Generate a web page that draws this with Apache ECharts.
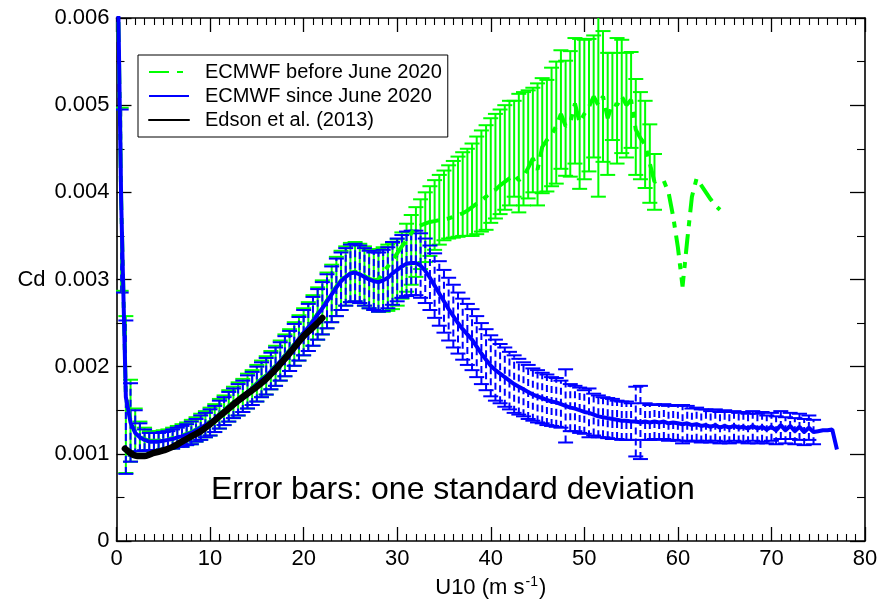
<!DOCTYPE html>
<html>
<head>
<meta charset="utf-8">
<script src="https://cdn.jsdelivr.net/npm/echarts@6/dist/echarts.min.js"></script>
<style>html,body{margin:0;padding:0;background:#fff}#c{width:879px;height:609px}</style>
</head>
<body>
<div id="c"></div>
<script>
// wind-speed bins (m/s)
const binU = [
 0,0.5,1,1.5,2,2.5,3,3.5,4,4.5,5,5.5,6,6.5,7,7.5,8,8.5,9,9.5,
 10,10.5,11,11.5,12,12.5,13,13.5,14,14.5,15,15.5,16,16.5,17,17.5,18,18.5,19,19.5,
 20,20.5,21,21.5,22,22.5,23,23.5,24,24.5,25,25.5,26,26.5,27,27.5,28,28.5,29,29.5,
 30,30.5,31,31.5,32,32.5,33,33.5,34,34.5,35,35.5,36,36.5,37,37.5,38,38.5,39,39.5,
 40,40.5,41,41.5,42,42.5,43,43.5,44,44.5,45,45.5,46,46.5,47,47.5,48,48.5,49,49.5,
 50,50.5,51,51.5,52,52.5,53,53.5,54,54.5,55,55.5,56,56.5,57,57.5,58,58.5,59,59.5,
 60,60.5,61,61.5,62,62.5,63,63.5,64,64.5,65,65.5,66,66.5,67,67.5,68,68.5,69,69.5,
 70,70.5,71,71.5,72,72.5,73,73.5,74,74.5,75,75.5,76,76.5,77
];
// ECMWF since June 2020: mean Cd and one standard deviation
const blueCd = [
 7.5e-3,3.9e-3,1.65e-3,1.36e-3,1.24e-3,1.19e-3,1.16e-3,1.14e-3,1.14e-3,1.14e-3,1.15e-3,1.16e-3,1.17e-3,1.19e-3,1.20e-3,1.22e-3,1.24e-3,1.27e-3,1.30e-3,1.33e-3,
 1.36e-3,1.40e-3,1.45e-3,1.49e-3,1.54e-3,1.58e-3,1.62e-3,1.66e-3,1.71e-3,1.75e-3,1.80e-3,1.85e-3,1.89e-3,1.95e-3,2.00e-3,2.06e-3,2.12e-3,2.18e-3,2.25e-3,2.32e-3,
 2.39e-3,2.45e-3,2.52e-3,2.60e-3,2.67e-3,2.75e-3,2.83e-3,2.91e-3,2.98e-3,3.03e-3,3.07e-3,3.08e-3,3.06e-3,3.03e-3,3.00e-3,2.98e-3,2.97e-3,2.99e-3,3.02e-3,3.07e-3,
 3.11e-3,3.15e-3,3.18e-3,3.19e-3,3.19e-3,3.16e-3,3.10e-3,3.02e-3,2.93e-3,2.84e-3,2.75e-3,2.66e-3,2.58e-3,2.50e-3,2.43e-3,2.37e-3,2.31e-3,2.23e-3,2.15e-3,2.08e-3,
 2.01e-3,1.96e-3,1.92e-3,1.88e-3,1.84e-3,1.80e-3,1.77e-3,1.74e-3,1.71e-3,1.68e-3,1.66e-3,1.64e-3,1.62e-3,1.60e-3,1.59e-3,1.57e-3,1.55e-3,1.53e-3,1.52e-3,1.50e-3,
 1.48e-3,1.47e-3,1.45e-3,1.43e-3,1.42e-3,1.41e-3,1.40e-3,1.39e-3,1.38e-3,1.38e-3,1.37e-3,1.37e-3,1.36e-3,1.37e-3,1.36e-3,1.37e-3,1.36e-3,1.37e-3,1.35e-3,1.36e-3,
 1.35e-3,1.34e-3,1.35e-3,1.33e-3,1.34e-3,1.32e-3,1.33e-3,1.31e-3,1.33e-3,1.30e-3,1.32e-3,1.30e-3,1.32e-3,1.30e-3,1.31e-3,1.29e-3,1.32e-3,1.29e-3,1.31e-3,1.28e-3,
 1.31e-3,1.27e-3,1.33e-3,1.27e-3,1.32e-3,1.26e-3,1.31e-3,1.25e-3,1.30e-3,1.25e-3,1.26e-3,1.27e-3,1.27e-3,1.28e-3,1.05e-3
];
const blueSd = [
 null,1.05e-3,0.88e-3,0.45e-3,0.26e-3,0.16e-3,0.12e-3,0.10e-3,0.10e-3,0.10e-3,0.10e-3,0.10e-3,0.11e-3,0.11e-3,0.12e-3,0.12e-3,0.13e-3,0.13e-3,0.14e-3,0.14e-3,
 0.15e-3,0.15e-3,0.16e-3,0.16e-3,0.17e-3,0.17e-3,0.18e-3,0.18e-3,0.19e-3,0.19e-3,0.20e-3,0.20e-3,0.21e-3,0.21e-3,0.22e-3,0.22e-3,0.23e-3,0.23e-3,0.24e-3,0.25e-3,
 0.26e-3,0.27e-3,0.28e-3,0.29e-3,0.30e-3,0.31e-3,0.32e-3,0.33e-3,0.33e-3,0.33e-3,0.33e-3,0.33e-3,0.33e-3,0.33e-3,0.33e-3,0.33e-3,0.34e-3,0.35e-3,0.35e-3,0.36e-3,
 0.36e-3,0.36e-3,0.37e-3,0.37e-3,0.37e-3,0.37e-3,0.37e-3,0.37e-3,0.37e-3,0.37e-3,0.36e-3,0.36e-3,0.36e-3,0.35e-3,0.35e-3,0.35e-3,0.35e-3,0.35e-3,0.35e-3,0.35e-3,
 0.35e-3,0.35e-3,0.34e-3,0.34e-3,0.33e-3,0.33e-3,0.32e-3,0.31e-3,0.31e-3,0.30e-3,0.30e-3,0.29e-3,0.29e-3,0.28e-3,0.28e-3,0.27e-3,0.42e-3,0.27e-3,0.26e-3,0.26e-3,
 0.25e-3,0.28e-3,0.24e-3,0.24e-3,0.23e-3,0.23e-3,0.23e-3,0.22e-3,0.22e-3,0.22e-3,0.21e-3,0.40e-3,0.42e-3,0.21e-3,0.20e-3,0.20e-3,0.20e-3,0.20e-3,0.20e-3,0.20e-3,
 0.20e-3,0.22e-3,0.20e-3,0.19e-3,0.19e-3,0.19e-3,0.18e-3,0.18e-3,0.18e-3,0.18e-3,0.18e-3,0.18e-3,0.17e-3,0.17e-3,0.17e-3,0.17e-3,0.17e-3,0.17e-3,0.17e-3,0.16e-3,
 0.16e-3,0.16e-3,0.16e-3,0.15e-3,0.15e-3,0.15e-3,0.15e-3,0.15e-3,0.14e-3,0.14e-3,null,null,null,null,null
];
// ECMWF before June 2020: line values (U 0 .. 64.5)
const greenCd = [
 7.4e-3,3.92e-3,1.68e-3,1.38e-3,1.25e-3,1.20e-3,1.17e-3,1.15e-3,1.15e-3,1.15e-3,1.16e-3,1.17e-3,1.18e-3,1.20e-3,1.21e-3,1.23e-3,1.25e-3,1.28e-3,1.31e-3,1.34e-3,
 1.37e-3,1.41e-3,1.46e-3,1.50e-3,1.55e-3,1.59e-3,1.63e-3,1.67e-3,1.72e-3,1.76e-3,1.81e-3,1.86e-3,1.90e-3,1.96e-3,2.01e-3,2.07e-3,2.13e-3,2.19e-3,2.26e-3,2.33e-3,
 2.40e-3,2.46e-3,2.53e-3,2.61e-3,2.68e-3,2.76e-3,2.84e-3,2.92e-3,2.99e-3,3.04e-3,3.08e-3,3.09e-3,3.07e-3,3.04e-3,3.01e-3,2.99e-3,3.00e-3,3.08e-3,3.15e-3,3.22e-3,
 3.30e-3,3.38e-3,3.45e-3,3.53e-3,3.60e-3,3.62e-3,3.64e-3,3.66e-3,3.67e-3,3.68e-3,3.69e-3,3.70e-3,3.72e-3,3.74e-3,3.76e-3,3.79e-3,3.83e-3,3.87e-3,3.91e-3,3.95e-3,
 4.00e-3,4.03e-3,4.08e-3,4.12e-3,4.16e-3,4.20e-3,4.14e-3,4.18e-3,4.28e-3,4.39e-3,4.26e-3,4.52e-3,4.60e-3,4.66e-3,4.76e-3,4.90e-3,4.76e-3,4.80e-3,5.02e-3,4.80e-3,
 4.90e-3,4.98e-3,5.10e-3,5.00e-3,5.10e-3,4.85e-3,5.02e-3,5.00e-3,5.10e-3,5.00e-3,5.06e-3,4.72e-3,4.62e-3,4.55e-3,4.33e-3,4.12e-3,4.14e-3,4.13e-3,4.00e-3,3.72e-3,
 3.37e-3,2.92e-3,3.45e-3,3.95e-3,4.16e-3,4.08e-3,4.00e-3,3.92e-3,3.85e-3,3.80e-3
];
// ECMWF before June 2020: bar centres (mean) and one standard deviation (U 0 .. 57.5)
const greenBarCd = [
 7.4e-3,3.92e-3,1.68e-3,1.38e-3,1.25e-3,1.20e-3,1.17e-3,1.15e-3,1.15e-3,1.15e-3,1.16e-3,1.17e-3,1.18e-3,1.20e-3,1.21e-3,1.23e-3,1.25e-3,1.28e-3,1.31e-3,1.34e-3,
 1.37e-3,1.41e-3,1.46e-3,1.50e-3,1.55e-3,1.59e-3,1.63e-3,1.67e-3,1.72e-3,1.76e-3,1.81e-3,1.86e-3,1.90e-3,1.96e-3,2.01e-3,2.07e-3,2.13e-3,2.19e-3,2.26e-3,2.33e-3,
 2.40e-3,2.46e-3,2.53e-3,2.61e-3,2.68e-3,2.76e-3,2.84e-3,2.92e-3,2.99e-3,3.04e-3,3.08e-3,3.09e-3,3.07e-3,3.04e-3,3.01e-3,2.99e-3,2.99e-3,3.00e-3,3.02e-3,3.04e-3,
 3.08e-3,3.16e-3,3.25e-3,3.34e-3,3.43e-3,3.52e-3,3.60e-3,3.67e-3,3.74e-3,3.80e-3,3.85e-3,3.89e-3,3.92e-3,3.95e-3,3.98e-3,4.00e-3,4.03e-3,4.08e-3,4.13e-3,4.17e-3,
 4.25e-3,4.30e-3,4.35e-3,4.40e-3,4.45e-3,4.50e-3,4.45e-3,4.50e-3,4.55e-3,4.60e-3,4.55e-3,4.65e-3,4.65e-3,4.75e-3,4.80e-3,4.95e-3,4.85e-3,4.90e-3,5.05e-3,4.90e-3,
 4.95e-3,5.00e-3,5.10e-3,5.00e-3,5.10e-3,4.90e-3,5.10e-3,5.05e-3,5.10e-3,5.00e-3,5.06e-3,4.75e-3,4.65e-3,4.55e-3,4.33e-3,4.12e-3
];
const greenSd = [
 null,1.05e-3,0.90e-3,0.47e-3,0.27e-3,0.17e-3,0.13e-3,0.11e-3,0.11e-3,0.11e-3,0.11e-3,0.11e-3,0.12e-3,0.12e-3,0.13e-3,0.13e-3,0.14e-3,0.14e-3,0.15e-3,0.15e-3,
 0.16e-3,0.16e-3,0.17e-3,0.17e-3,0.18e-3,0.18e-3,0.19e-3,0.19e-3,0.20e-3,0.20e-3,0.21e-3,0.21e-3,0.22e-3,0.22e-3,0.23e-3,0.23e-3,0.24e-3,0.24e-3,0.25e-3,0.26e-3,
 0.27e-3,0.28e-3,0.29e-3,0.30e-3,0.31e-3,0.32e-3,0.33e-3,0.34e-3,0.34e-3,0.34e-3,0.34e-3,0.34e-3,0.34e-3,0.34e-3,0.34e-3,0.34e-3,0.36e-3,0.37e-3,0.38e-3,0.38e-3,
 0.38e-3,0.38e-3,0.39e-3,0.40e-3,0.40e-3,0.40e-3,0.40e-3,0.40e-3,0.40e-3,0.40e-3,0.40e-3,0.42e-3,0.44e-3,0.46e-3,0.48e-3,0.50e-3,0.53e-3,0.56e-3,0.58e-3,0.60e-3,
 0.60e-3,0.60e-3,0.60e-3,0.60e-3,0.60e-3,0.55e-3,0.68e-3,0.65e-3,0.62e-3,0.60e-3,0.70e-3,0.66e-3,0.64e-3,0.68e-3,0.70e-3,0.68e-3,0.66e-3,0.72e-3,0.72e-3,0.86e-3,
 0.80e-3,0.76e-3,0.70e-3,1.05e-3,0.75e-3,0.70e-3,0.50e-3,0.72e-3,0.65e-3,0.60e-3,0.55e-3,0.55e-3,0.50e-3,0.50e-3,0.45e-3,0.32e-3
];
// Edson et al. (2013)
const edsonU  = [0.9,1.5,2,2.5,3,3.5,4,5,6,7,8,9,10,11,12,13,14,15,16,17,18,19,20,21,22];
const edsonCd = [1.06e-3,1.01e-3,0.98e-3,0.975e-3,0.975e-3,0.99e-3,1.01e-3,1.04e-3,1.08e-3,1.14e-3,1.20e-3,1.26e-3,1.34e-3,1.43e-3,1.52e-3,1.61e-3,1.69e-3,1.77e-3,1.86e-3,1.97e-3,2.09e-3,2.22e-3,2.35e-3,2.45e-3,2.56e-3];

const seriesNames = ['ECMWF before June 2020', 'ECMWF since June 2020', 'Edson et al. (2013)'];
const noteText = 'Error bars: one standard deviation';

const FONT = '"Liberation Sans", Arial, Helvetica, sans-serif';
const GREEN = '#00ff00', BLUE = '#0000ff', BLACK = '#000000';

function barData(u, c, s) {
  const out = [];
  for (let i = 0; i < s.length; i++) {
    if (s[i] != null && c[i] != null) out.push([u[i], c[i] - s[i], c[i] + s[i]]);
  }
  return out;
}
function errorBars(data, color, dash) {
  return {
    type: 'custom', clip: true, silent: true, z: 2,
    encode: { x: 0, y: [1, 2] },
    data: data,
    renderItem: function (params, api) {
      const x = api.value(0);
      const lo = api.coord([x, api.value(1)]);
      const hi = api.coord([x, api.value(2)]);
      const hw = 7.5;
      const st = { stroke: color, lineWidth: 2 };
      return { type: 'group', children: [
        { type: 'line', shape: { x1: lo[0], y1: lo[1], x2: hi[0], y2: hi[1] }, style: Object.assign({}, st, dash ? { lineDash: dash } : {}) },
        { type: 'line', shape: { x1: hi[0] - hw, y1: hi[1], x2: hi[0] + hw, y2: hi[1] }, style: st },
        { type: 'line', shape: { x1: lo[0] - hw, y1: lo[1], x2: lo[0] + hw, y2: lo[1] }, style: st }
      ]};
    }
  };
}
const pairs = (u, c) => u.slice(0, c.length).map((x, i) => [x, c[i]]).filter(d => d[1] != null);

const axisLineStyle = { color: '#000', width: 1.6 };
function xAx(pos, show) {
  return {
    type: 'value', min: 0, max: 80, interval: 10, position: pos,
    axisLine: { show: true, onZero: false, lineStyle: axisLineStyle },
    axisTick: { show: true, inside: true, length: 14, lineStyle: { color: '#000', width: 1.3 } },
    minorTick: { show: true, splitNumber: 10, length: 7, lineStyle: { color: '#000', width: 1.1 } },
    splitLine: { show: false }, minorSplitLine: { show: false },
    axisLabel: { show: show, fontFamily: FONT, fontSize: 22, color: '#000', margin: 7 }
  };
}
function yAx(pos, show) {
  return {
    type: 'value', min: 0, max: 0.006, interval: 0.001, position: pos,
    axisLine: { show: true, onZero: false, lineStyle: axisLineStyle },
    axisTick: { show: true, inside: true, length: 15, lineStyle: { color: '#000', width: 1.3 } },
    minorTick: { show: true, splitNumber: 2, length: 8, lineStyle: { color: '#000', width: 1.1 } },
    splitLine: { show: false }, minorSplitLine: { show: false },
    axisLabel: { show: show, fontFamily: FONT, fontSize: 22, color: '#000', margin: 7,
      formatter: v => (v === 0 ? '0' : v.toFixed(3)) }
  };
}
const xBottom = xAx('bottom', true);
xBottom.name = '{a|U10 (m s}{s|-1}{a|)}';
xBottom.nameLocation = 'middle';
xBottom.nameGap = 30;
xBottom.nameTextStyle = { rich: {
  a: { fontFamily: FONT, fontSize: 22, color: '#000', lineHeight: 26 },
  s: { fontFamily: FONT, fontSize: 14, color: '#000', verticalAlign: 'top', lineHeight: 14, padding: [0, 1, 0, 1] }
}};
const yLeft = yAx('left', true);
yLeft.name = 'Cd';
yLeft.nameLocation = 'middle';
yLeft.nameRotate = 0;
yLeft.nameGap = 71;
yLeft.nameTextStyle = { fontFamily: FONT, fontSize: 22, color: '#000' };

const chart = echarts.init(document.getElementById('c'), null, { renderer: 'canvas' });
chart.setOption({
  animation: false,
  backgroundColor: '#fff',
  grid: { left: 116.5, right: 14, top: 18, bottom: 68, containLabel: false, outerBoundsMode: 'none' },
  xAxis: [xBottom, xAx('top', false)],
  yAxis: [yLeft, yAx('right', false)],
  legend: {
    data: seriesNames, orient: 'vertical', left: 138, top: 55,
    backgroundColor: '#fff', borderColor: '#000', borderWidth: 1, borderRadius: 0,
    padding: [5, 6, 5, 10], itemGap: 0, itemWidth: 40, itemHeight: 14,
    itemStyle: { opacity: 0 },
    textStyle: { fontFamily: FONT, fontSize: 20, color: '#000', lineHeight: 24, padding: [0, 0, 0, 11] },
    selectedMode: false
  },
  graphic: [{
    type: 'text', left: 211, top: 474, z: 100,
    style: { text: noteText, font: '32px ' + FONT, fill: '#000' }
  }],
  series: [
    errorBars(barData(binU, greenBarCd, greenSd), GREEN, null),
    errorBars(barData(binU, blueCd, blueSd), BLUE, [7, 4]),
    { name: seriesNames[0], type: 'line', data: pairs(binU, greenCd), symbol: 'none', clip: true, z: 3,
      lineStyle: { color: GREEN, width: 4, type: [20, 8, 6, 8] }, itemStyle: { color: GREEN } },
    { name: seriesNames[1], type: 'line', data: pairs(binU, blueCd), symbol: 'none', clip: true, z: 4,
      lineStyle: { color: BLUE, width: 4 }, itemStyle: { color: BLUE } },
    { name: seriesNames[2], type: 'line', data: pairs(edsonU, edsonCd), symbol: 'none', smooth: true, clip: true, z: 5,
      lineStyle: { color: BLACK, width: 6.5, cap: 'round' }, itemStyle: { color: BLACK } }
  ]
});
</script>
</body>
</html>
